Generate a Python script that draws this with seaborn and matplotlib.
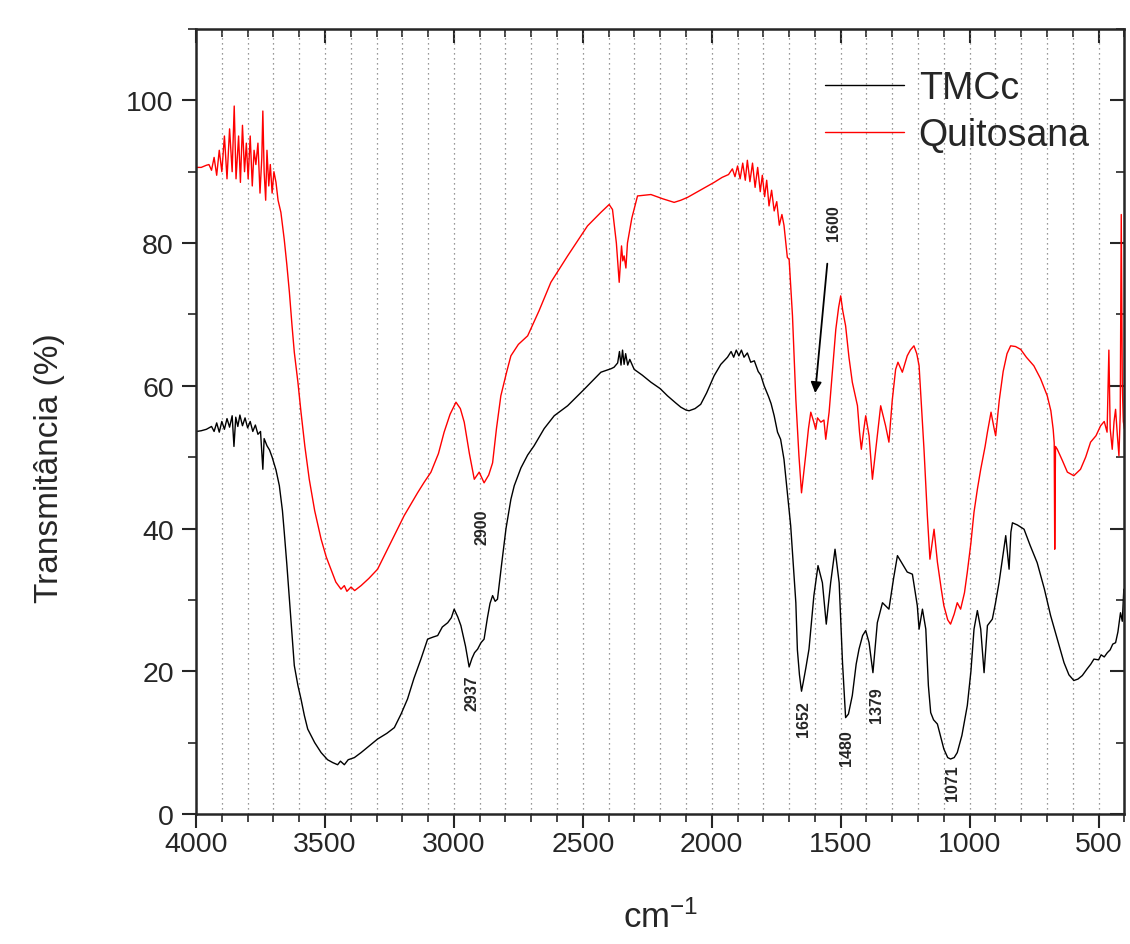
import matplotlib
matplotlib.use("Agg")
from matplotlib import pyplot as plt
from matplotlib.ticker import MultipleLocator
import numpy as np
import pandas as pd
import seaborn as sns

# TMCc spectrum (wavenumber cm-1, transmittance %)
tmcc_wn = [3998, 3980, 3960, 3940, 3930, 3920, 3910, 3900, 3890, 3880, 3870, 3860, 3853, 3846,
           3838, 3830, 3820, 3810, 3800, 3790, 3780, 3770, 3760, 3750, 3741, 3736, 3725, 3715,
           3705, 3690, 3677, 3665, 3658, 3648, 3638, 3628, 3619, 3605, 3593, 3580, 3567, 3540,
           3515, 3490, 3470, 3451, 3440, 3425, 3410, 3386, 3360, 3330, 3296, 3260, 3231, 3205,
           3180, 3155, 3128, 3102, 3080, 3063, 3045, 3024, 3010, 2999, 2985, 2973, 2955, 2941,
           2930, 2920, 2908, 2895, 2883, 2870, 2860, 2850, 2840, 2831, 2815, 2798, 2779, 2766,
           2740, 2714, 2689, 2650, 2611, 2559, 2495, 2430, 2390, 2379, 2365, 2358, 2352, 2346,
           2340, 2334, 2326, 2318, 2301, 2270, 2236, 2200, 2172, 2140, 2120, 2100, 2088, 2065,
           2043, 2020, 1991, 1965, 1939, 1925, 1915, 1905, 1895, 1885, 1875, 1862, 1849, 1835,
           1820, 1810, 1797, 1780, 1770, 1758, 1745, 1733, 1720, 1707, 1694, 1684, 1674, 1668,
           1660, 1652, 1645, 1635, 1623, 1604, 1588, 1571, 1556, 1539, 1522, 1506, 1493, 1481,
           1470, 1455, 1440, 1429, 1415, 1403, 1390, 1375, 1358, 1338, 1313, 1295, 1280, 1260,
           1242, 1222, 1203, 1196, 1183, 1170, 1160, 1151, 1140, 1125, 1110, 1100, 1085, 1074,
           1060, 1048, 1030, 1009, 995, 983, 970, 957, 944, 931, 912, 900, 886, 870, 860, 847,
           840, 834, 815, 789, 765, 738, 710, 686, 660, 634, 615, 596, 580, 563, 545, 530, 518,
           500, 490, 478, 466, 455, 445, 434, 425, 415, 408, 402, 400]
tmcc_t = [53.6, 53.7, 53.9, 54.3, 53.6, 54.8, 53.5, 55.0, 53.9, 55.4, 54.2, 55.8, 51.5, 55.6,
          54.3, 55.9, 54.4, 55.5, 54.1, 55.0, 53.6, 54.5, 53.2, 53.6, 48.3, 52.6, 51.6, 51.0,
          50.0, 48.2, 46.0, 42.5, 39.5, 35.0, 30.1, 25.0, 20.8, 18.0, 16.1, 13.8, 11.9, 10.0,
          8.6, 7.6, 7.2, 6.9, 7.4, 6.9, 7.6, 7.9, 8.6, 9.5, 10.5, 11.3, 12.1, 14.0,
          16.1, 19.0, 21.7, 24.5, 24.8, 25.0, 26.2, 26.8, 27.5, 28.7, 27.6, 26.4, 23.5, 20.6,
          21.8, 22.6, 23.1, 24.0, 24.5, 27.5, 29.5, 30.6, 29.8, 30.1, 35.0, 40.0, 44.1, 46.0,
          48.5, 50.3, 51.6, 54.0, 55.8, 57.2, 59.5, 61.9, 62.4, 62.6, 63.2, 64.8, 62.9, 65.0,
          63.0, 64.5, 62.9, 63.7, 62.3, 61.5, 60.5, 59.6, 58.6, 57.6, 57.0, 56.6, 56.5, 56.8,
          57.4, 59.0, 61.4, 63.0, 64.0, 64.8, 64.0, 65.0, 64.2, 65.0, 64.0, 64.6, 63.3, 63.5,
          62.0, 61.5, 60.0, 58.5, 57.5, 55.8, 53.5, 52.5, 49.7, 45.0, 40.4, 35.0, 29.6, 23.0,
          19.5, 17.2, 18.5, 20.5, 23.1, 30.6, 34.8, 32.4, 26.6, 32.4, 37.1, 32.4, 21.2, 13.5,
          14.0, 16.6, 21.0, 23.1, 25.0, 25.7, 24.0, 19.8, 26.8, 29.6, 28.7, 33.0, 36.2, 35.0,
          33.9, 33.6, 29.2, 25.9, 28.7, 25.9, 18.0, 14.2, 13.2, 12.6, 10.5, 9.1, 7.9, 7.7,
          7.9, 8.6, 11.0, 15.2, 20.0, 25.9, 28.5, 25.9, 19.8, 26.4, 27.3, 29.5, 32.4, 36.5, 39.0, 34.3,
          39.5, 40.8, 40.5, 39.9, 37.6, 35.2, 31.5, 27.8, 24.5, 21.2, 19.5, 18.7, 18.9, 19.4, 20.3, 21.0, 21.7,
          21.6, 22.3, 22.0, 22.6, 23.0, 23.8, 24.0, 25.5, 28.2, 27.0, 31.5, 31.0]

# Quitosana spectrum
quit_wn = [3998, 3980, 3960, 3950, 3940, 3930, 3920, 3910, 3900, 3890, 3880, 3870, 3860, 3852,
           3845, 3835, 3828, 3820, 3812, 3805, 3798, 3790, 3782, 3775, 3768, 3760, 3752, 3745,
           3741, 3736, 3730, 3725, 3718, 3712, 3705, 3698, 3690, 3682, 3671, 3658, 3648, 3638,
           3628, 3619, 3605, 3593, 3578, 3561, 3540, 3515, 3495, 3477, 3458, 3438, 3425, 3415,
           3399, 3385, 3360, 3330, 3296, 3270, 3244, 3193, 3141, 3115, 3089, 3060, 3038, 3015,
           2992, 2975, 2960, 2940, 2921, 2902, 2883, 2865, 2850, 2835, 2818, 2795, 2779, 2750,
           2714, 2670, 2624, 2559, 2482, 2430, 2398, 2385, 2370, 2359, 2350, 2345, 2340, 2333,
           2327, 2310, 2288, 2236, 2190, 2146, 2120, 2094, 2040, 1991, 1960, 1935, 1920, 1910,
           1900, 1890, 1880, 1870, 1862, 1852, 1842, 1832, 1822, 1812, 1804, 1795, 1787, 1778,
           1768, 1758, 1748, 1738, 1728, 1720, 1707, 1700, 1687, 1674, 1662, 1652, 1636, 1625,
           1616, 1605, 1597, 1590, 1577, 1565, 1558, 1545, 1530, 1519, 1508, 1500, 1492, 1481,
           1468, 1455, 1435, 1427, 1420, 1410, 1403, 1390, 1377, 1364, 1345, 1326, 1313, 1300,
           1287, 1278, 1261, 1242, 1230, 1216, 1205, 1196, 1177, 1164, 1154, 1138, 1125, 1110,
           1100, 1085, 1074, 1060, 1048, 1035, 1020, 1009, 995, 983, 970, 957, 940, 931, 917,
           905, 899, 885, 870, 855, 841, 822, 802, 780, 751, 725, 699, 685, 676, 672, 670, 667,
           660, 640, 621, 596, 570, 550, 531, 510, 492, 478, 467, 460, 455, 447, 440, 434, 427,
           421, 416, 412, 408, 404, 400]
quit_t = [90.6, 90.6, 90.9, 91.0, 90.2, 92.0, 89.5, 93.0, 90.0, 95.0, 89.0, 96.0, 90.0, 99.2,
          89.0, 95.0, 88.5, 96.5, 90.0, 94.0, 89.0, 95.0, 88.0, 93.0, 91.0, 94.0, 87.0, 92.0,
          98.5, 90.0, 86.0, 93.0, 88.0, 91.0, 87.0, 90.0, 88.5, 86.0, 84.3, 80.5, 77.0, 73.1,
          68.5, 64.7, 60.5, 56.3, 51.5, 46.9, 42.5, 38.5, 36.0, 34.3, 32.5, 31.5, 32.0, 31.2,
          31.8, 31.3, 32.0, 33.0, 34.3, 36.2, 38.1, 41.8, 45.0, 46.5, 47.9, 50.5, 53.5, 56.0,
          57.7, 56.8, 54.9, 50.5, 46.9, 47.9, 46.4, 47.5, 49.2, 54.0, 58.6, 62.0, 64.2, 65.8,
          67.0, 70.5, 74.5, 78.2, 82.4, 84.3, 85.4, 84.7, 80.0, 74.5, 79.6, 77.5, 78.2, 76.5,
          80.0, 83.5, 86.6, 86.8, 86.2, 85.7, 86.0, 86.4, 87.5, 88.5, 89.2, 89.6, 90.4, 89.3,
          90.8, 89.0, 91.2, 88.8, 91.6, 88.6, 91.2, 87.8, 90.6, 87.2, 89.5, 86.5, 88.8, 85.2,
          87.4, 84.5, 85.8, 82.5, 84.0, 82.5, 78.0, 77.7, 69.8, 58.1, 50.2, 45.0, 50.2, 54.0,
          56.3, 55.0, 53.9, 55.5, 54.9, 55.2, 52.5, 56.3, 63.0, 67.9, 71.0, 72.6, 70.5, 68.4,
          64.0, 60.5, 57.2, 53.5, 51.1, 54.0, 55.8, 53.0, 46.9, 51.1, 57.2, 54.4, 52.1, 58.0,
          62.3, 63.3, 61.9, 64.2, 65.0, 65.6, 64.5, 62.8, 51.1, 41.8, 35.7, 39.9, 35.3, 31.5,
          29.2, 27.2, 26.6, 28.0, 29.6, 28.7, 31.0, 33.9, 38.0, 42.3, 45.5, 48.3, 51.5, 53.5, 56.3,
          54.0, 53.0, 58.0, 62.0, 64.5, 65.6, 65.5, 65.1, 64.0, 62.8, 61.0, 58.6, 56.5, 53.9, 52.0, 37.1, 51.5,
          51.1, 49.5, 47.9, 47.4, 48.3, 50.0, 52.1, 53.0, 54.4, 55.0, 53.5, 65.0, 54.0, 51.1, 55.0, 56.7, 53.0,
          50.2, 56.0, 84.0, 60.0, 55.0, 54.0]

# peak labels
peak_labels = ["2900", "2937", "1652", "1480", "1379", "1071", "1600"]
peak_x = [2893, 2930, 1645, 1477, 1362, 1066, 1526]
peak_y = [40.3, 17.0, 13.5, 9.4, 15.4, 4.4, 83.0]

series_names = ["TMCc", "Quitosana"]
series_colors = ["black", "red"]

df = pd.concat([
    pd.DataFrame({"wn": tmcc_wn, "t": tmcc_t, "amostra": "TMCc"}),
    pd.DataFrame({"wn": quit_wn, "t": quit_t, "amostra": "Quitosana"}),
])

sns.set_style("ticks")
plt.rcParams['font.family'] = ['Liberation Sans', 'DejaVu Sans']
plt.rcParams['mathtext.fontset'] = 'custom'
plt.rcParams['mathtext.rm'] = 'Liberation Sans'
plt.rcParams['mathtext.default'] = 'regular'

fig = plt.figure(figsize=(11.3, 9.45), dpi=100)
ax = fig.add_axes([0.1735, 0.1376, 0.8215, 0.8307])

sns.lineplot(data=df, x="wn", y="t", hue="amostra", hue_order=series_names,
             palette=dict(zip(series_names, series_colors)), sort=False,
             estimator=None, linewidth=1.0, ax=ax)

xt = [4000, 3500, 3000, 2500, 2000, 1500, 1000, 500]
yt = [0, 20, 40, 60, 80, 100]
ax.set_xlim(4000, 400)
ax.set_ylim(0, 110)
ax.set_xticks(xt)
ax.xaxis.set_minor_locator(MultipleLocator(100))
ax.set_yticks(yt)
ax.yaxis.set_minor_locator(MultipleLocator(10))
ax.xaxis.grid(True, which='both', linestyle=(0, (1, 3)), color='#777777', linewidth=0.9)
ax.yaxis.grid(False)
ax.tick_params(which='major', direction='out', length=10, width=1.5, labelsize=20.5)
ax.tick_params(which='minor', direction='out', length=5.5, width=1.2)
ax.tick_params(axis='x', which='major', pad=2.5)
ax.tick_params(axis='y', which='major', pad=6)
for s in ax.spines.values():
    s.set_linewidth(1.8)
    s.set_visible(True)

# mirrored ticks pointing inward on top and right
sx = ax.secondary_xaxis('top')
sx.set_xticks(xt)
sx.xaxis.set_minor_locator(MultipleLocator(100))
sx.tick_params(which='major', direction='in', length=10, width=1.5, labeltop=False)
sx.tick_params(which='minor', direction='in', length=5.5, width=1.2)
sy = ax.secondary_yaxis('right')
sy.set_yticks(yt)
sy.yaxis.set_minor_locator(MultipleLocator(10))
sy.tick_params(which='major', direction='in', length=10, width=1.5, labelright=False)
sy.tick_params(which='minor', direction='in', length=5.5, width=1.2)

ax.set_xlabel("cm$^{-1}$", fontsize=25, labelpad=30)
ax.set_ylabel("Transmitância (%)", fontsize=24)
ax.yaxis.set_label_coords(-0.141, 0.442)

for lab, x, y in zip(peak_labels, peak_x, peak_y):
    ax.text(x, y, lab, rotation=90, ha='center', va='center', fontsize=11.5, fontweight='bold')
ax.annotate("", xy=(1600, 58.6), xytext=(1551, 77.5),
            arrowprops=dict(arrowstyle='-|>', color='black', lw=1.3, mutation_scale=16))

ax.legend(frameon=False, loc='upper right', fontsize=27, handlelength=2.1,
          handletextpad=0.4, labelspacing=0.3, borderaxespad=0.3,
          bbox_to_anchor=(0.991, 0.981))

fig.savefig("out.png", dpi=100)
